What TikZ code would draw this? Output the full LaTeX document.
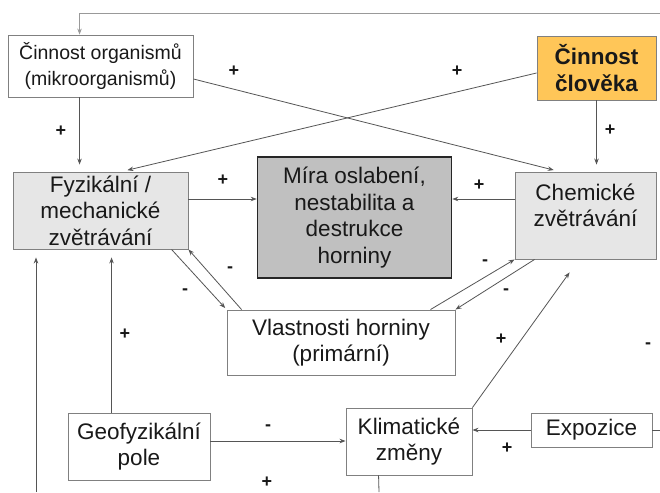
\documentclass[tikz,border=0pt]{standalone}
\usepackage{fontspec}
\setmainfont{Liberation Sans}
\usetikzlibrary{arrows.meta}
\definecolor{boxline}{HTML}{808080}
\definecolor{wire}{HTML}{555555}
\definecolor{lightwire}{HTML}{999999}
\definecolor{procfill}{HTML}{E6E6E6}
\definecolor{corefill}{HTML}{C0C0C0}
\definecolor{coreline}{HTML}{262626}
\definecolor{humanfill}{HTML}{FFC658}
\tikzset{
  box/.style={draw=boxline, line width=0.9pt, fill=white, align=center, inner sep=0pt,
    font=\fontsize{22.5}{26.5}\selectfont, text=black!90},
  proc/.style={box, fill=procfill},
  core/.style={box, fill=corefill, draw=coreline, line width=1.6pt},
  human/.style={box, fill=humanfill, font=\fontsize{22.5}{27}\selectfont\bfseries},
  link/.style={draw=wire, line width=0.8pt, -{Stealth[length=6pt,width=4.5pt]}},
  plain/.style={draw=wire, line width=0.8pt},
  sign/.style={font=\fontsize{18}{18}\selectfont\bfseries, text=black!90, inner sep=0pt},
}
\begin{document}
\begin{tikzpicture}[x=1pt,y=-1pt]
\useasboundingbox[fill=white] (0,0) rectangle (660,492);

% boxes
\node[box, minimum width=185, minimum height=62, font=\fontsize{19.5}{26}\selectfont]
  (org) at (100.5,66) {Činnost organismů\\(mikroorganismů)};
\node[human, minimum width=119, minimum height=64] (clov) at (596.5,68) {Činnost\\člověka};
\node[proc, minimum width=175, minimum height=77] (fyz) at (100.5,210.5) {Fyzikální /\\mechanické\\zvětrávání};
\node[core, minimum width=194, minimum height=121] (mira) at (354.5,217.5)
  {Míra oslabení,\\nestabilita a\\destrukce\\horniny};
\node[proc, minimum width=141, minimum height=87] (chem) at (585.5,215.5) {};
\node[align=center, inner sep=0pt, font=\fontsize{22.5}{26.5}\selectfont, text=black!90]
  (chemtxt) at ([yshift=10]chem.center) {Chemické\\zvětrávání};
\node[box, minimum width=228, minimum height=65] (vlast) at (341,342.5) {Vlastnosti horniny\\(primární)};
\node[box, minimum width=142, minimum height=67] (geo) at (139,446.5) {Geofyzikální\\pole};
\node[box, minimum width=126, minimum height=67] (klim) at (409,441.5) {Klimatické\\změny};
\node[box, minimum width=121, minimum height=34] (expo) at (591.5,430) {Expozice};

% loose ends at the picture border
\coordinate (topR) at (660,13);
\coordinate (botL) at (36,492);
\coordinate (rightE) at (660,430);
\coordinate (botK) at (379,492);

% connectors
\draw[link, draw=lightwire] (topR) -| ([xshift=72]org.north west);
\draw[link, shorten >=7pt] ([xshift=72]org.south west) -- ([xshift=72]org.south west |- fyz.north);
\draw[link, shorten >=6pt] ([yshift=-13]org.east) -- ([xshift=45]chem.north west);
\draw[link, shorten >=6pt] ([yshift=-5]clov.west) -- ([xshift=109]fyz.north west);
\draw[link, shorten >=7pt] (clov.south) -- (clov.south |- chem.north);
\draw[link] ([yshift=11.5]fyz.east) -- ([yshift=11.5]fyz.east -| mira.west);
\draw[link] ([yshift=16.5]chem.west) -- ([yshift=16.5]chem.west -| mira.east);
\draw[link, shorten >=2pt] ([xshift=159]fyz.south west) -- (vlast.north west);
\draw[link] ([xshift=15]vlast.north west) -- (fyz.south east);
\draw[link] ([xshift=-25]vlast.north east) -- (chem.south west);
\draw[link] ([xshift=20]chem.south west) -- (vlast.north east);
\draw[link] (klim.north east) -- ([xshift=55,yshift=-13]chem.south west);
\draw[link, shorten >=8pt] ([xshift=44]geo.north west) -- ([xshift=44]geo.north west |- fyz.south);
\draw[link, shorten >=8pt] (botL) -- (botL |- fyz.south);
\draw[link] ([yshift=5.5]geo.east) -- ([yshift=5.5]geo.east -| klim.west);
\draw[link] (expo.west) -- (expo.west -| klim.east);
\draw[plain] (expo.east) -- (rightE);
\draw[plain] ([xshift=33]klim.south west) -- (botK);

% signs
\node[sign] (s1) at (234,71) {+};
\node[sign] (s2) at (61,131) {+};
\node[sign] (s3) at (457,71) {+};
\node[sign] (s4) at (610,130) {+};
\node[sign] (s5) at (223,180) {+};
\node[sign] (s6) at (479,185) {+};
\node[sign] (s7) at (230,270) {-};
\node[sign] (s8) at (185,292) {-};
\node[sign] (s9) at (485,263) {-};
\node[sign] (s10) at (506,292) {-};
\node[sign] (s11) at (125,334) {+};
\node[sign] (s12) at (501,339) {+};
\node[sign] (s13) at (648,346) {-};
\node[sign] (s14) at (268,428) {-};
\node[sign] (s15) at (267,482) {+};
\node[sign] (s16) at (507,448) {+};
\end{tikzpicture}
\end{document}
